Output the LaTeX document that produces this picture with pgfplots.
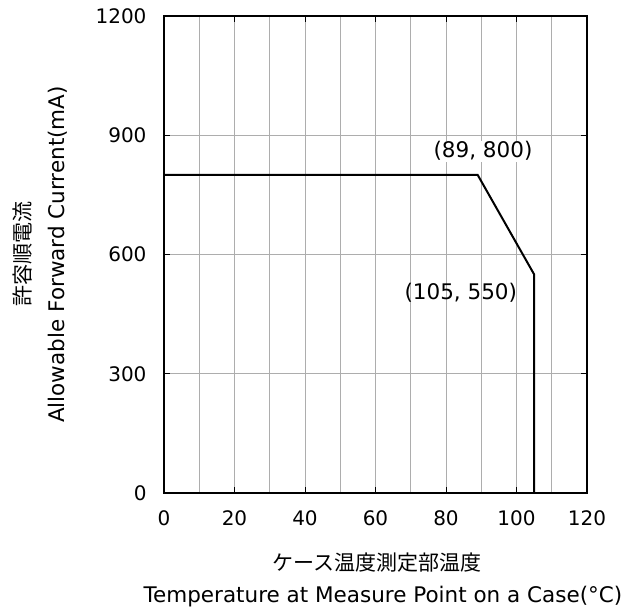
\documentclass[border=0pt]{standalone}
\usepackage{pgfplots}
\pgfplotsset{compat=1.18}
\usepackage{fontspec}
\setmainfont{DejaVu Sans}
\newfontfamily\jp{Noto Sans CJK JP}
\begin{document}
\begin{tikzpicture}
\path[use as bounding box] (-164bp,-116bp) rectangle (460bp,493bp);
\begin{axis}[
    scale only axis,
    width=423bp, height=477bp,
    xmin=0, xmax=120, ymin=0, ymax=1200,
    xtick={0,20,...,120},
    minor x tick num=1,
    ytick={0,300,...,1200},
    grid=both,
    major grid style={black!32, line width=1bp},
    minor grid style={black!32, line width=1bp},
    minor tick length=0pt,
    major tick length=6bp,
    tick align=inside,
    tick style={black, line width=1bp},
    axis line style={black, line width=2bp},
    /pgf/number format/assume math mode=true,
    /pgf/number format/1000 sep={},
    every tick label/.append style={font=\fontsize{20bp}{24bp}\selectfont},
    xticklabel style={yshift=-14bp},
    yticklabel style={xshift=-14bp},
    clip=false,
]
\addplot[black, line width=2bp] coordinates {(0,800) (89,800) (105,550) (105,0)};
\node[fill=white, inner sep=1bp, font=\fontsize{21.5bp}{24bp}\selectfont] at (axis cs:90.5,860) {(89, 800)};
\node[inner sep=0pt, font=\fontsize{21.5bp}{24bp}\selectfont] at (axis cs:84.2,503) {(105, 550)};
\end{axis}
\node[anchor=base, font=\fontsize{21bp}{24bp}\selectfont\jp] at (213bp,-77bp) {ケース温度測定部温度};
\node[anchor=base, font=\fontsize{21.5bp}{24bp}\selectfont] at (219bp,-109bp) {Temperature at Measure Point on a Case(°C)};
\node[anchor=base, rotate=90, font=\fontsize{21.5bp}{24bp}\selectfont] at (-99bp,238.5bp) {Allowable Forward Current(mA)};
\node[anchor=base, rotate=90, font=\fontsize{21bp}{24bp}\selectfont\jp] at (-133bp,239bp) {許容順電流};
\end{tikzpicture}
\end{document}
